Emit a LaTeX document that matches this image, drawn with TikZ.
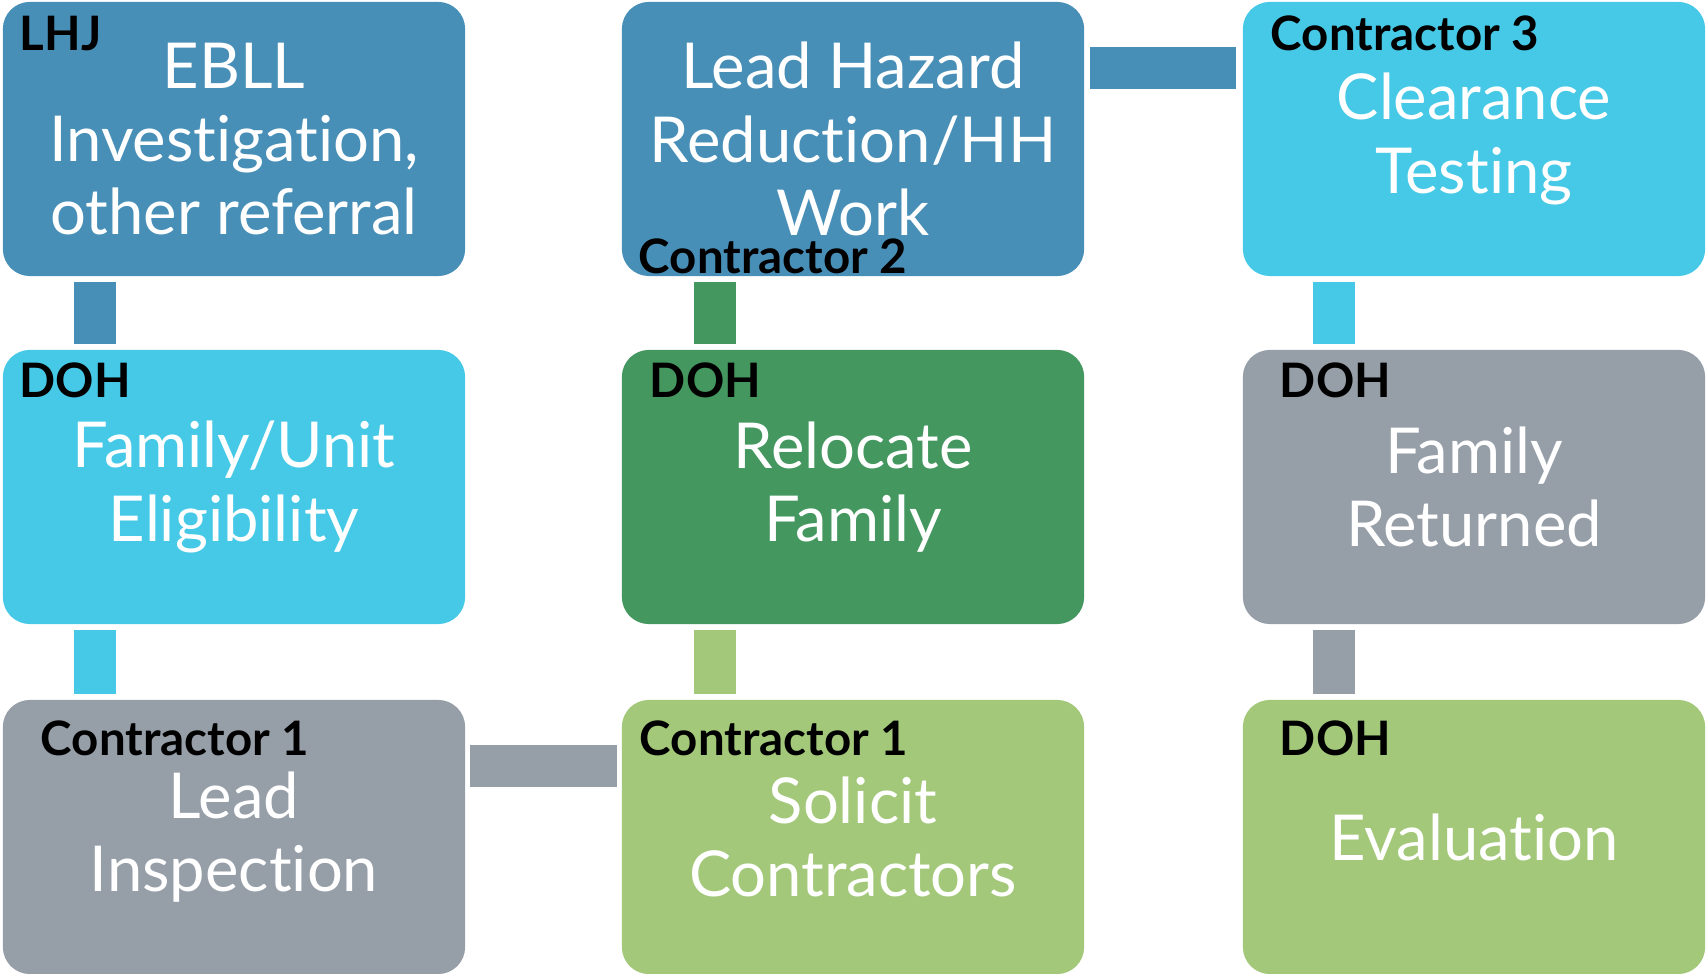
\documentclass[tikz,border=0pt]{standalone}
\usepackage{fontspec}
\setmainfont{Lato}[Ligatures=NoCommon]

\definecolor{stepblue}{HTML}{488FB8}
\definecolor{stepcyan}{HTML}{46C9E7}
\definecolor{stepgray}{HTML}{969EA8}
\definecolor{stepgreen}{HTML}{44975F}
\definecolor{steplime}{HTML}{A3C879}

\begin{document}
\begin{tikzpicture}[x=0.01cm, y=-0.01cm,
        stepbox/.style={rounded corners=0.27cm, minimum width=4.62cm, minimum height=2.74cm,
            inner sep=0pt, align=center, text=white, font=\fontsize{18pt}{20.8pt}\selectfont},
        tag/.style={anchor=base west, inner sep=0pt, font=\fontsize{13.5pt}{15pt}\selectfont\bfseries},
        link/.style={line width=0.42cm}]
        \useasboundingbox (0,0) rectangle (1706,974);

        % --- Kästen ---
        \node[stepbox, fill=stepblue]  (ebll)     at (234,139)  {EBLL\\Investigation,\\other referral};
        \node[stepbox, fill=stepcyan]  (unit)     at (234,487)  {Family/Unit\\Eligibility};
        \node[stepbox, fill=stepgray]  (inspect)  at (234,837)  {Lead\\Inspection};
        \node[stepbox, fill=steplime]  (solicit)  at (853,837)  {Solicit\\Contractors};
        \node[stepbox, fill=stepgreen] (relocate) at (853,487)  {Relocate\\Family};
        \node[stepbox, fill=stepblue]  (hazard)   at (853,139)  {Lead Hazard\\Reduction/HH\\Work};
        \node[stepbox, fill=stepcyan]  (clear)    at (1474,139) {Clearance\\Testing};
        \node[stepbox, fill=stepgray]  (returned) at (1474,487) {Family\\Returned};
        \node[stepbox, fill=steplime]  (evaluate) at (1474,837) {Evaluation};

        % --- Verbindungen ---
        \draw[link, stepblue]  ([xshift=-1.39cm, yshift=-0.05cm]ebll.south) -- ([xshift=-1.39cm, yshift=0.05cm]unit.north);
        \draw[link, stepcyan]  ([xshift=-1.39cm, yshift=-0.05cm]unit.south) -- ([xshift=-1.39cm, yshift=0.05cm]inspect.north);
        \draw[link, stepgray]  ([xshift=0.04cm, yshift=0.71cm]inspect.east) -- ([xshift=-0.04cm, yshift=0.71cm]solicit.west);
        \draw[link, steplime]  ([xshift=-1.38cm, yshift=0.05cm]solicit.north) -- ([xshift=-1.38cm, yshift=-0.05cm]relocate.south);
        \draw[link, stepgreen] ([xshift=-1.38cm, yshift=0.05cm]relocate.north) -- ([xshift=-1.38cm, yshift=-0.05cm]hazard.south);
        \draw[link, stepblue]  ([xshift=0.05cm, yshift=0.71cm]hazard.east) -- ([xshift=-0.06cm, yshift=0.71cm]clear.west);
        \draw[link, stepcyan]  ([xshift=-1.40cm, yshift=-0.05cm]clear.south) -- ([xshift=-1.40cm, yshift=0.05cm]returned.north);
        \draw[link, stepgray]  ([xshift=-1.40cm, yshift=-0.05cm]returned.south) -- ([xshift=-1.40cm, yshift=0.05cm]evaluate.north);

        % --- Zuständigkeiten ---
        \foreach \nd/\dx/\dy/\who in {ebll/17/49/LHJ, unit/17/48/DOH, inspect/38/56/Contractor 1,
                solicit/18/56/Contractor 1, relocate/28/48/DOH, hazard/17/272/Contractor 2,
                clear/28/49/Contractor 3, returned/37/48/DOH, evaluate/37/56/DOH} {
            \node[tag] (tag-\nd) at ([shift={(\dx,\dy)}]\nd.north west) {\who};
        }

    \end{tikzpicture}
\end{document}
